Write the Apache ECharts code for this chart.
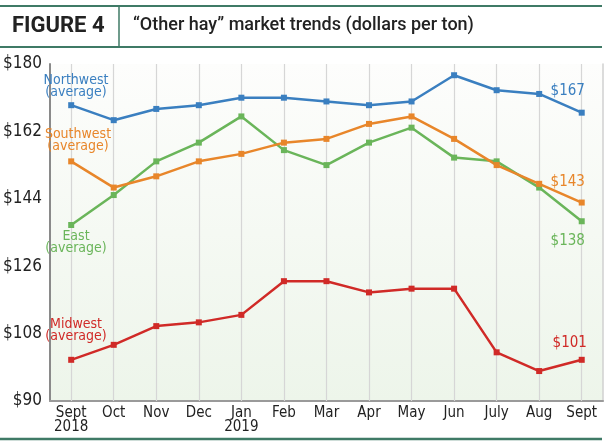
<!DOCTYPE html>
<html>
<head>
<meta charset="utf-8">
<script src="https://cdn.jsdelivr.net/npm/echarts@6/dist/echarts.min.js"></script>
<style>
  html, body { margin: 0; padding: 0; background: #fff; }
  #main { width: 610px; height: 445px; }
</style>
</head>
<body>
<div id="main"></div>
<script>
// months, Sept 2018 - Sept 2019
var months = ['Sept\n2018', 'Oct', 'Nov', 'Dec', 'Jan\n2019', 'Feb', 'Mar', 'Apr', 'May', 'Jun', 'July', 'Aug', 'Sept'];
var yTicks = [90, 108, 126, 144, 162, 180];

var northwest = [169, 165, 168, 169, 171, 171, 170, 169, 170, 177, 173, 172, 167];
var southwest = [154, 147, 150, 154, 156, 159, 160, 164, 166, 160, 153, 148, 143];
var east      = [137, 145, 154, 159, 166, 157, 153, 159, 163, 155, 154, 147, 138];
var midwest   = [101, 105, 110, 111, 113, 122, 122, 119, 120, 120, 103, 98, 101];

var narrow = "'Liberation Sans Narrow', 'DejaVu Sans Condensed', sans-serif";
var teal = '#3f7a66';

// last point gets the "$xxx" label
function withEndLabel(arr, color, pos, off) {
    return arr.map(function (v, i) {
        if (i !== arr.length - 1) return v;
        return {
            value: v,
            label: {
                show: true, position: pos, offset: off,
                formatter: '$' + v, color: color,
                fontFamily: narrow, fontSize: 15
            }
        };
    });
}

function lineSeries(name, arr, color, pos, off) {
    return {
        name: name,
        type: 'line',
        data: withEndLabel(arr, color, pos, off),
        symbol: 'rect',
        symbolSize: 6,
        z: 5,
        lineStyle: { color: color, width: 2.5 },
        itemStyle: { color: color }
    };
}

var myChart = echarts.init(document.getElementById('main'));
var option = {
    backgroundColor: '#fff',
    animation: false,
    grid: {
        left: 43, right: 7, top: 64, bottom: 44,
        show: true,
        borderWidth: 0,
        backgroundColor: new echarts.graphic.LinearGradient(0, 0, 0, 1, [
            { offset: 0, color: '#fdfdfc' },
            { offset: 1, color: '#edf5ea' }
        ])
    },
    xAxis: {
        type: 'category',
        data: months,
        boundaryGap: true,
        axisLine: { lineStyle: { color: '#9a9a9a', width: 2 } },
        axisTick: { alignWithLabel: true, length: 4, lineStyle: { color: '#9a9a9a' } },
        axisLabel: {
            color: '#222', fontFamily: narrow, fontSize: 15,
            margin: 5, lineHeight: 14, interval: 0
        },
        splitLine: { show: false }
    },
    yAxis: [{
        type: 'value',
        min: yTicks[0],
        max: yTicks[yTicks.length - 1],
        interval: yTicks[1] - yTicks[0],
        axisLine: { show: true, lineStyle: { color: '#8a8a8a', width: 2 } },
        axisTick: { show: false },
        axisLabel: {
            color: '#222', fontFamily: narrow, fontSize: 17, margin: 8,
            formatter: '${value}'
        },
        splitLine: { show: false }
    }, {
        type: 'value',
        position: 'right',
        min: yTicks[0],
        max: yTicks[yTicks.length - 1],
        axisLine: { show: true, lineStyle: { color: '#d0d0d0', width: 1.5 } },
        axisTick: { show: false },
        axisLabel: { show: false },
        splitLine: { show: false }
    }],
    graphic: [
        { type: 'line', shape: { x1: 0, y1: 6, x2: 602, y2: 6 }, style: { stroke: teal, lineWidth: 2 } },
        { type: 'line', shape: { x1: 0, y1: 47, x2: 602, y2: 47 }, style: { stroke: teal, lineWidth: 2 } },
        { type: 'line', shape: { x1: 119, y1: 6, x2: 119, y2: 47 }, style: { stroke: teal, lineWidth: 1.5 } },
        { type: 'line', shape: { x1: 0, y1: 439, x2: 602, y2: 439 }, style: { stroke: teal, lineWidth: 2.5 } },
        { type: 'text', left: 12, top: 15, style: { text: 'FIGURE 4', fill: '#222', font: 'bold 22px Roboto' } },
        { type: 'text', left: 133, top: 16, style: { text: '\u201cOther hay\u201d market trends (dollars per ton)', fill: '#222', font: '500 18px Roboto' } },
        { type: 'text', x: 76, y: 74, z: 10, style: { text: 'Northwest\n(average)', fill: '#3a7fc0', font: '14px ' + narrow, align: 'center', lineHeight: 12 } },
        { type: 'text', x: 78, y: 128, z: 10, style: { text: 'Southwest\n(average)', fill: '#e8862a', font: '14px ' + narrow, align: 'center', lineHeight: 12 } },
        { type: 'text', x: 76, y: 230, z: 10, style: { text: 'East\n(average)', fill: '#6ab55a', font: '14px ' + narrow, align: 'center', lineHeight: 12 } },
        { type: 'text', x: 76, y: 318, z: 10, style: { text: 'Midwest\n(average)', fill: '#d02a27', font: '14px ' + narrow, align: 'center', lineHeight: 12 } }
    ],
    series: [
        {
            // vertical guide lines at each month
            type: 'line',
            data: [],
            z: 1,
            silent: true,
            markLine: {
                silent: true,
                symbol: 'none',
                label: { show: false },
                lineStyle: { color: '#d6d6d6', width: 1.2, type: 'solid' },
                data: months.map(function (m, i) { return { xAxis: i }; })
            }
        },
        lineSeries('Midwest', midwest, '#d02a27', 'top', [-12, -1]),
        lineSeries('East', east, '#6ab55a', 'bottom', [-14, 4]),
        lineSeries('Southwest', southwest, '#e8862a', 'top', [-14, -5]),
        lineSeries('Northwest', northwest, '#3a7fc0', 'top', [-14, -6])
    ]
};
myChart.setOption(option);
</script>
</body>
</html>
